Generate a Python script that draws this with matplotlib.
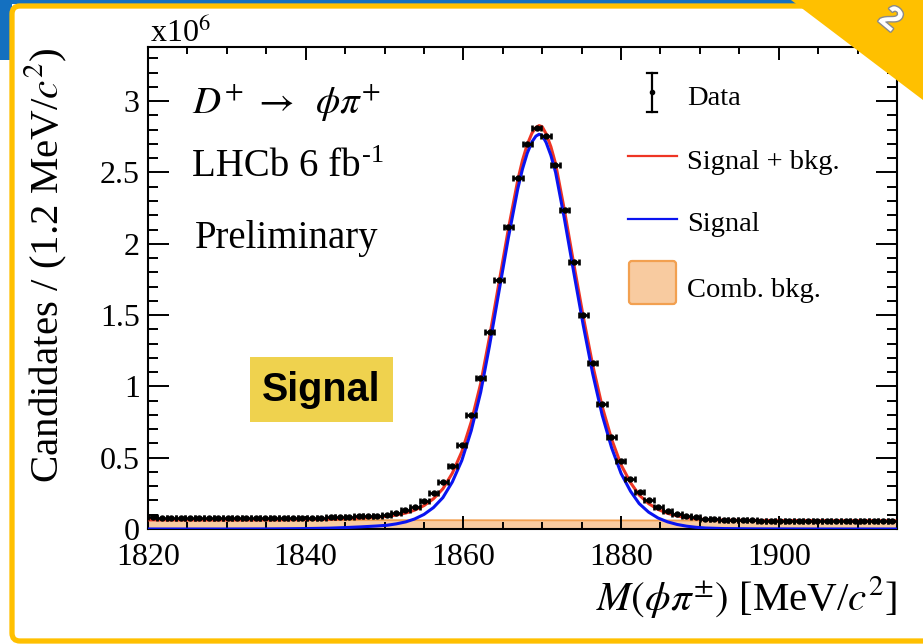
import numpy as np
import matplotlib
matplotlib.use("Agg")
import matplotlib.pyplot as plt
from matplotlib.patches import FancyBboxPatch, Rectangle, Polygon
from matplotlib.lines import Line2D
from matplotlib.ticker import MultipleLocator, FixedLocator, FixedFormatter
import matplotlib.patheffects as pe

plt.rcParams['mathtext.fontset'] = 'stix'
plt.rcParams['font.family'] = ['Liberation Serif', 'DejaVu Serif']

W, H = 923, 644

# Histogram binning of the phi-pi invariant mass
M_LO, M_HI, N_BINS = 1820.0, 1915.0, 80

# Candidates per bin (units of 1e6)
counts = [
    0.082, 0.080, 0.080, 0.079, 0.079, 0.079, 0.079, 0.078, 0.078, 0.078,
    0.078, 0.078, 0.078, 0.079, 0.079, 0.079, 0.079, 0.080, 0.080, 0.081,
    0.083, 0.085, 0.088, 0.091, 0.094, 0.098, 0.110, 0.133, 0.156, 0.198,
    0.250, 0.330, 0.440, 0.589, 0.800, 1.056, 1.378, 1.745, 2.118, 2.460,
    2.703, 2.812, 2.756, 2.556, 2.240, 1.869, 1.500, 1.161, 0.876, 0.647,
    0.475, 0.349, 0.261, 0.203, 0.156, 0.126, 0.105, 0.091, 0.082, 0.072,
    0.067, 0.064, 0.062, 0.061, 0.060, 0.059, 0.058, 0.058, 0.057, 0.057,
    0.056, 0.056, 0.055, 0.055, 0.055, 0.054, 0.054, 0.054, 0.053, 0.053,
]

# Combinatorial background (linear), units of 1e6
bkg_mass = [1820.0, 1915.0]
bkg_level = [0.064, 0.058]

# Signal component of the fit
sig_mass = [1820, 1830, 1836, 1840, 1843, 1845, 1847, 1849, 1850.3, 1851.5,
            1852.7, 1853.8, 1855.0, 1856.2, 1857.4, 1858.6, 1859.8, 1861.0,
            1862.2, 1863.3, 1864.5, 1865.7, 1866.9, 1867.5, 1868.1, 1868.7,
            1869.2, 1869.6, 1870.0, 1870.5, 1871.1, 1871.7, 1872.8, 1874.0,
            1875.2, 1876.4, 1877.6, 1878.8, 1880.0, 1881.2, 1882.3, 1883.5,
            1884.7, 1885.9, 1887.1, 1888.3, 1889.5, 1890.7, 1893, 1897, 1905,
            1915]
sig_level = [0, 0, 0.001, 0.003, 0.006, 0.010, 0.015, 0.021, 0.026, 0.036,
             0.050, 0.070, 0.102, 0.150, 0.220, 0.330, 0.480, 0.690, 0.960,
             1.280, 1.660, 2.040, 2.385, 2.525, 2.635, 2.715, 2.755, 2.768,
             2.760, 2.710, 2.620, 2.500, 2.180, 1.800, 1.430, 1.090, 0.800,
             0.570, 0.390, 0.265, 0.178, 0.118, 0.077, 0.050, 0.032, 0.020,
             0.012, 0.007, 0.003, 0.001, 0, 0]

x_major = [1820, 1840, 1860, 1880, 1900]
y_major = [0, 0.5, 1, 1.5, 2, 2.5, 3]
y_major_labels = ['0', '0.5', '1', '1.5', '2', '2.5', '3']

C_RED = '#EE3524'
C_BLUE = '#0A14F0'
C_BAND = '#F8CBA0'
C_BAND_EDGE = '#F2A050'
C_GOLD = '#FFC000'
C_SLIDE_BLUE = '#1470C0'
C_TAG = '#EFD24E'

fig = plt.figure(figsize=(W / 100, H / 100), dpi=100)
fig.patch.set_facecolor('white')


def inch(x, y):
    return x / 100.0, (H - y) / 100.0


def ffrac(x, y):
    return x / W, 1 - y / H


# slide decoration behind the plot
fig.patches.append(Rectangle(inch(0, 60), 0.12, 0.60, transform=fig.dpi_scale_trans,
                             facecolor=C_SLIDE_BLUE, edgecolor='none', zorder=-3))
fig.patches.append(Rectangle(inch(0, 4), W / 100, 0.04, transform=fig.dpi_scale_trans,
                             facecolor=C_SLIDE_BLUE, edgecolor='none', zorder=-3))
fig.patches.append(FancyBboxPatch(inch(12, 641), (W + 20 - 12) / 100, (641 - 6) / 100,
                                  boxstyle='round,pad=0,rounding_size=0.08',
                                  transform=fig.dpi_scale_trans,
                                  facecolor='white', edgecolor=C_GOLD, linewidth=3.8,
                                  zorder=-2))

ax = fig.add_axes([148 / W, 1 - 529 / H, (897 - 148) / W, (529 - 47) / H])
ax.set_xlim(M_LO, M_HI)
ax.set_ylim(0, 3.38)

bw = (M_HI - M_LO) / N_BINS
centers = M_LO + (np.arange(N_BINS) + 0.5) * bw

sig_mass = np.asarray(sig_mass, dtype=float)
sig_level = np.asarray(sig_level, dtype=float)
bkg_at_sig = np.interp(sig_mass, bkg_mass, bkg_level)
total = sig_level + bkg_at_sig

ax.fill_between(bkg_mass, 0, bkg_level, facecolor=C_BAND, edgecolor='none', zorder=1)
ax.plot(bkg_mass, bkg_level, color=C_BAND_EDGE, lw=1.3, zorder=1.2)
ax.plot(sig_mass, total, color=C_RED, lw=2.2, zorder=3, solid_joinstyle='round')
ax.plot(sig_mass, sig_level, color=C_BLUE, lw=2.2, zorder=3.2, solid_joinstyle='round')
ax.errorbar(centers, counts, xerr=bw / 2, fmt='o', ms=3.6, color='black',
            elinewidth=1.9, capsize=2.0, capthick=1.9, zorder=5)

ax.set_axisbelow(False)
ax.xaxis.set_major_locator(FixedLocator(x_major))
ax.xaxis.set_minor_locator(MultipleLocator(5))
ax.yaxis.set_major_locator(FixedLocator(y_major))
ax.yaxis.set_major_formatter(FixedFormatter(y_major_labels))
ax.yaxis.set_minor_locator(MultipleLocator(0.1))
ax.tick_params(which='both', direction='in', top=True, right=True, width=1.4,
               color='black', labelsize=23)
ax.tick_params(axis='x', which='major', length=9.4, pad=10)
ax.tick_params(axis='x', which='minor', length=5)
ax.tick_params(axis='y', which='major', length=15, pad=6)
ax.tick_params(axis='y', which='minor', length=7.5)
for s in ax.spines.values():
    s.set_linewidth(1.5)

# axis titles
fig.text(*ffrac(897, 610), r'$M(\phi\pi^{\pm})$ [MeV/$c^{2}$]', ha='right',
         va='baseline', fontsize=29.5)
fig.text(*ffrac(46, 265), r'Candidates / (1.2 MeV/$c^{2}$)', rotation=90,
         ha='center', va='center', fontsize=29.5)
fig.text(*ffrac(150, 42), r'x10$^{6}$', ha='left', va='baseline', fontsize=23)

# labels inside the frame
fig.text(*ffrac(192, 113), r'$D^{+}\;\rightarrow\;\;\phi\pi^{+}$', ha='left',
         va='baseline', fontsize=28)
lumi = fig.text(*ffrac(192, 176), 'LHCb 6 fb', ha='left', va='baseline', fontsize=28)
fig.canvas.draw()
lumi_box = lumi.get_window_extent(fig.canvas.get_renderer())
fig.text((lumi_box.x1 + 1) / W, 1 - 162 / H, '-1', ha='left', va='baseline', fontsize=19)
fig.text(*ffrac(195, 248), 'Preliminary', ha='left', va='baseline', fontsize=28)

# legend
leg_fs = 20.5
fig.add_artist(Line2D([652 / W, 652 / W], [1 - 73 / H, 1 - 112 / H], color='black', lw=1.6))
for yy in (73, 112):
    fig.add_artist(Line2D([647 / W, 657 / W], [1 - yy / H, 1 - yy / H], color='black', lw=1.6))
fig.add_artist(Line2D([652 / W], [1 - 92 / H], marker='o', ms=3, color='black', lw=0))
fig.text(*ffrac(687, 105), 'Data', ha='left', va='baseline', fontsize=leg_fs)
fig.add_artist(Line2D([628 / W, 677 / W], [1 - 156 / H, 1 - 156 / H], color=C_RED, lw=1.6))
fig.text(*ffrac(687, 169), 'Signal + bkg.', ha='left', va='baseline', fontsize=leg_fs)
fig.add_artist(Line2D([628 / W, 677 / W], [1 - 219 / H, 1 - 219 / H], color=C_BLUE, lw=1.6))
fig.text(*ffrac(687, 231), 'Signal', ha='left', va='baseline', fontsize=leg_fs)
fig.patches.append(FancyBboxPatch(inch(629, 304), 0.47, 0.43,
                                  boxstyle='round,pad=0,rounding_size=0.03',
                                  transform=fig.dpi_scale_trans, facecolor=C_BAND,
                                  edgecolor=C_BAND_EDGE, linewidth=1.6, zorder=4))
fig.text(*ffrac(687, 297), 'Comb. bkg.', ha='left', va='baseline', fontsize=leg_fs)

# highlighted tag
fig.patches.append(Rectangle(inch(250, 422), 1.43, 0.65, transform=fig.dpi_scale_trans,
                             facecolor=C_TAG, edgecolor='none', zorder=4))
fig.text(*ffrac(321.5, 390), 'Signal', ha='center', va='center', fontsize=28.5,
         fontweight='bold', family=['Liberation Sans', 'DejaVu Sans'], zorder=5)

# corner ribbon
fig.patches.append(Polygon([inch(791, 0), inch(923, 0), inch(923, 100)], closed=True,
                           transform=fig.dpi_scale_trans, facecolor=C_GOLD,
                           edgecolor='none', zorder=6))
t = fig.text(*ffrac(890, 20), '2', ha='center', va='center', rotation=-40, fontsize=24,
             fontweight='bold', color='white', family=['Liberation Sans', 'DejaVu Sans'],
             zorder=7)
t.set_path_effects([pe.withStroke(linewidth=2, foreground='#8a8a8a')])

fig.savefig('out.png', dpi=100, facecolor='white')
